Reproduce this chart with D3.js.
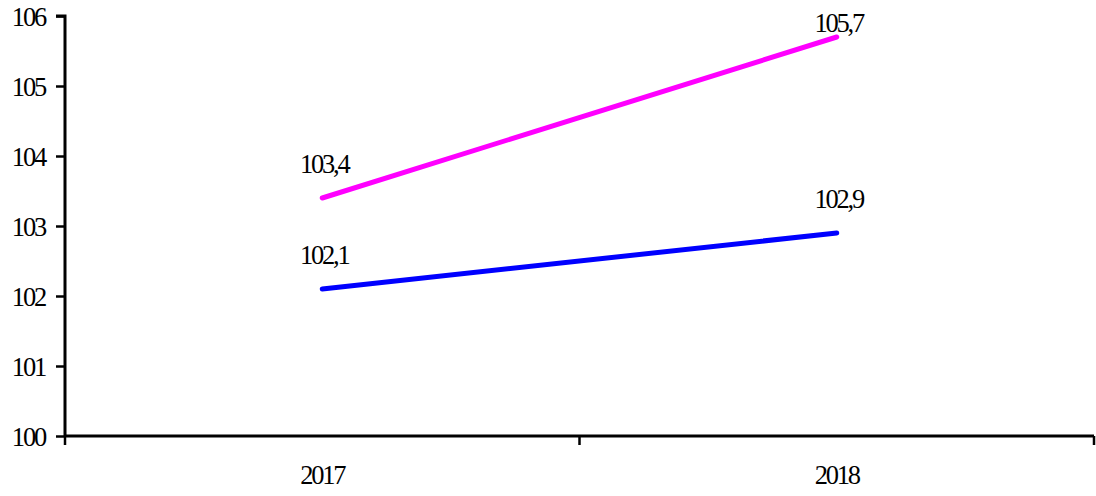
<!DOCTYPE html>
<html><head><meta charset="utf-8">
<script src="https://cdn.jsdelivr.net/npm/d3@7"></script>
<style>
body{margin:0;background:#fff;}
text{font-family:"Liberation Serif","Times New Roman",serif;font-size:26.5px;letter-spacing:-2.2px;fill:#000;}
</style></head>
<body><svg id="c" width="1096" height="496"></svg>
<script>
const categories = ["2017", "2018"];
const seriesPink = [103.4, 105.7];
const seriesBlue = [102.1, 102.9];
const pinkLabels = ["103,4", "105,7"];
const blueLabels = ["102,1", "102,9"];
const yTicks = [100, 101, 102, 103, 104, 105, 106];

(function () {
const svg = d3.select("#c");
const mLeft = 65, mRight = 1094, mTop = 16, mBottom = 436;
const x = d3.scaleBand().domain(categories).range([mLeft, mRight]);
const y = d3.scaleLinear().domain([100, 106]).range([mBottom, mTop]);

// y axis
const yAxis = d3.axisLeft(y).tickValues(yTicks).tickSize(9).tickPadding(11).tickFormat(d3.format("d"));
const gy = svg.append("g").attr("transform", `translate(${mLeft},0)`).call(yAxis);
gy.attr("font-family", null).attr("font-size", null);
gy.select(".domain").attr("stroke", "#000").attr("stroke-width", 3).attr("d", `M-9,${mTop}H0V${mBottom}`);
gy.selectAll(".tick line").attr("stroke", "#000").attr("stroke-width", 2.5);
gy.selectAll(".tick text").attr("dy", "0.36em");

// x axis
const gx = svg.append("g").attr("transform", `translate(0,${mBottom})`);
gx.append("line").attr("x1", mLeft).attr("x2", mRight).attr("y1", 0).attr("y2", 0).attr("stroke", "#000").attr("stroke-width", 3);
const bounds = [mLeft, ...categories.map(c => x(c) + x.bandwidth())];
gx.selectAll("line.t").data(bounds).join("line").attr("class", "t")
  .attr("x1", d => d).attr("x2", d => d).attr("y1", 0).attr("y2", 9).attr("stroke", "#000").attr("stroke-width", 2.5);
gx.selectAll("text").data(categories).join("text")
  .attr("x", d => x(d) + x.bandwidth() / 2).attr("y", 48).attr("text-anchor", "middle").text(d => d);

const cx = c => x(c) + x.bandwidth() / 2;
const line = d3.line().x((d, i) => cx(categories[i])).y(d => y(d));

function series(vals, labels, color) {
  svg.append("path").datum(vals).attr("d", line).attr("fill", "none")
    .attr("stroke", color).attr("stroke-width", 5).attr("stroke-linecap", "round");
  svg.append("g").selectAll("text").data(vals).join("text")
    .attr("x", (d, i) => cx(categories[i]) + 2)
    .attr("y", d => Math.max(y(d) - 25, 32))
    .attr("text-anchor", "middle").text((d, i) => labels[i]);
}
series(seriesPink, pinkLabels, "#FF00FF");
series(seriesBlue, blueLabels, "#0000FF");
})();
</script></body></html>
